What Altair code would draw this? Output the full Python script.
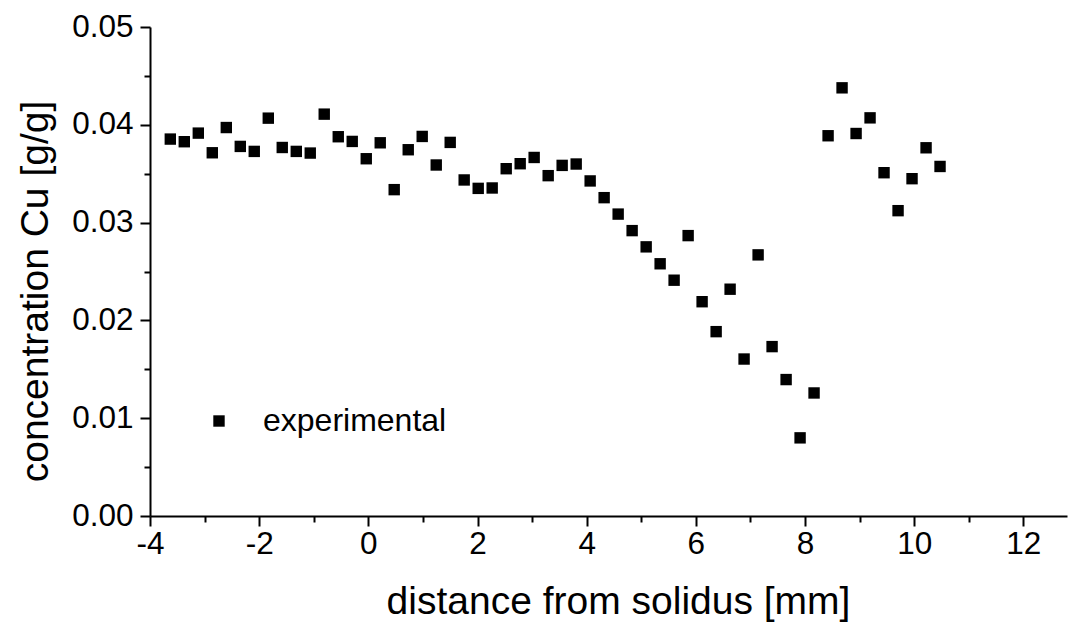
import altair as alt
import pandas as pd

# distance from solidus [mm]
distance_mm = [
    -3.628, -3.372, -3.115, -2.859, -2.602, -2.346, -2.090, -1.833, -1.577, -1.320,
    -1.064, -0.808, -0.551, -0.295, -0.038, 0.218, 0.474, 0.731, 0.987, 1.244,
    1.500, 1.756, 2.013, 2.269, 2.526, 2.782, 3.038, 3.295, 3.551, 3.808,
    4.064, 4.320, 4.577, 4.833, 5.090, 5.346, 5.602, 5.859, 6.115, 6.372,
    6.628, 6.884, 7.141, 7.397, 7.654, 7.910, 8.166, 8.423, 8.679, 8.936,
    9.192, 9.448, 9.705, 9.961, 10.218, 10.474,
]

# concentration Cu [g/g]
concentration_cu = [
    0.03854, 0.03827, 0.03915, 0.03714, 0.03972, 0.03779, 0.03728, 0.04068, 0.03768, 0.03728,
    0.03711, 0.04109, 0.03878, 0.03830, 0.03653, 0.03816, 0.03337, 0.03745, 0.03881, 0.03589,
    0.03820, 0.03436, 0.03350, 0.03354, 0.03551, 0.03602, 0.03666, 0.03480, 0.03585, 0.03599,
    0.03426, 0.03255, 0.03087, 0.02918, 0.02752, 0.02579, 0.02411, 0.02867, 0.02191, 0.01885,
    0.02319, 0.01605, 0.02670, 0.01732, 0.01395, 0.00799, 0.01258, 0.03888, 0.04378, 0.03911,
    0.04071, 0.03510, 0.03122, 0.03449, 0.03765, 0.03574,
]

series_name = "experimental"

x_tick_values = [-4, -3, -2, -1, 0, 1, 2, 3, 4, 5, 6, 7, 8, 9, 10, 11, 12]
y_tick_values = [0.0, 0.005, 0.01, 0.015, 0.02, 0.025, 0.03, 0.035, 0.04, 0.045, 0.05]

df = pd.DataFrame({
    "distance": distance_mm,
    "concentration": concentration_cu,
    "series": [series_name] * len(distance_mm),
})

FONT = "Liberation Sans, Arial, Helvetica, sans-serif"

x_axis = alt.Axis(
    values=x_tick_values,
    labelExpr="datum.value % 2 === 0 ? '' + datum.value : ''",
    tickSize={"condition": {"test": "datum.value % 2 !== 0", "value": 6}, "value": 10},
    labelOverlap=False,
    labelFontSize=31.5,
    labelPadding=2,
    labelFlush=False,
    title="distance from solidus [mm]",
    titleFontSize=39,
    titleX=468,
    titleY=97,
    titleBaseline="alphabetic",
    grid=False,
)

y_axis = alt.Axis(
    values=y_tick_values,
    labelExpr="round(datum.value * 1000) % 10 === 0 ? format(datum.value, '.2f') : ''",
    tickSize={"condition": {"test": "round(datum.value * 1000) % 10 !== 0", "value": 6}, "value": 10},
    labelOverlap=False,
    labelFontSize=31.5,
    labelPadding=7,
    labelFlush=False,
    title="concentration Cu [g/g]",
    titleFontSize=39,
    titleX=-115,
    titleY=264,
    titleBaseline="middle",
    grid=False,
)

chart = (
    alt.Chart(df)
    .mark_square(size=130, opacity=1, filled=True)
    .encode(
        x=alt.X("distance:Q", scale=alt.Scale(domain=[-4, 12.8], nice=False, zero=False), axis=x_axis),
        y=alt.Y("concentration:Q", scale=alt.Scale(domain=[0, 0.05], nice=False, zero=True), axis=y_axis),
        color=alt.Color(
            "series:N",
            scale=alt.Scale(domain=[series_name], range=["#000000"]),
            legend=alt.Legend(
                orient="none",
                legendX=53,
                legendY=378,
                title=None,
                symbolType="square",
                symbolSize=130,
                symbolStrokeWidth=0,
                labelFontSize=32,
                labelOffset=28,
                labelLimit=500,
                padding=0,
            ),
        ),
    )
    .properties(
        width=917,
        height=489,
        autosize=alt.AutoSizeParams(type="none"),
        padding={"left": 150, "top": 27, "right": 2, "bottom": 107},
        background="white",
    )
    .configure_view(stroke=None)
    .configure_axis(
        domainColor="black",
        domainWidth=2,
        tickColor="black",
        tickWidth=2,
        labelColor="black",
        titleColor="black",
        labelFont=FONT,
        titleFont=FONT,
        titleFontWeight="normal",
    )
    .configure_legend(labelFont=FONT, labelColor="black")
)

chart.save("out.html", embed_options={"renderer": "svg", "actions": False})
